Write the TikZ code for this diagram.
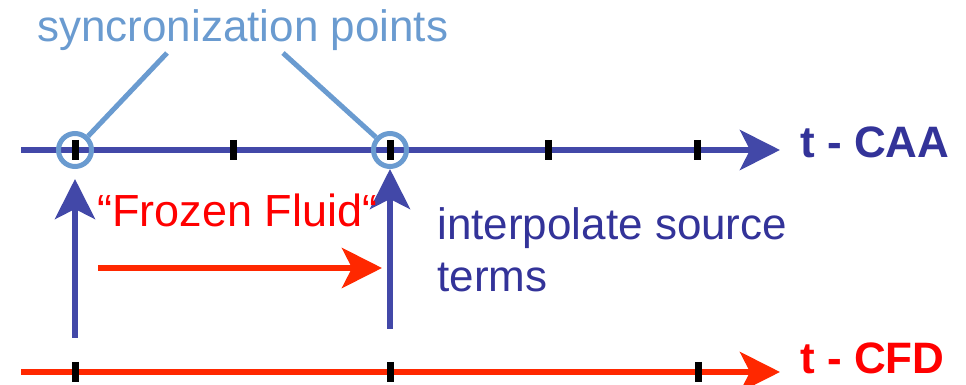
\documentclass[tikz,border=0pt]{standalone}
\usepackage{fontspec}
\setmainfont{Liberation Sans}
\usetikzlibrary{arrows.meta}
\definecolor{caablue}{RGB}{66,72,168}
\definecolor{labelblue}{RGB}{51,51,153}
\definecolor{syncblue}{RGB}{106,155,208}
\definecolor{cfdred}{RGB}{255,40,0}
\definecolor{labelred}{RGB}{255,0,0}
\begin{document}
\begin{tikzpicture}[x=0.5pt, y=-0.5pt,
    >={Stealth[length=20pt, width=20pt, inset=5pt]},
    every node/.style={font=\fontsize{22pt}{26pt}\selectfont, inner sep=0pt},
    axisline/.style={->, line width=3pt},
    tickmark/.style={line width=3.5pt, black},
    sync/.style={circle, draw=syncblue, line width=2.5pt, minimum size=16.5pt},
    callout/.style={syncblue, line width=2.5pt}]
  \useasboundingbox (0,0) rectangle (966,385);
  % CAA time axis
  \coordinate (caa0) at (21,150);
  \coordinate (caa1) at (780,150);
  \draw[axisline, caablue] (caa0) -- (caa1);
  \foreach \x in {75,233,390,548,697}
    \draw[tickmark] (\x,140) -- (\x,160);
  \node[anchor=base west, font=\fontsize{22pt}{26pt}\selectfont\bfseries, labelblue] (caa) at (800,158) {t - CAA};
  % CFD time axis
  \coordinate (cfd0) at (21,372);
  \coordinate (cfd1) at (780,372);
  \draw[axisline, cfdred] (cfd0) -- (cfd1);
  \foreach \x in {75,390,698}
    \draw[tickmark] (\x,362) -- (\x,382);
  \node[anchor=base west, font=\fontsize{22pt}{26pt}\selectfont\bfseries, labelred] (cfd) at (800,373) {t - CFD};
  % Synchronisation points
  \node[sync] (s1) at (75,150) {};
  \node[sync] (s2) at (390,150) {};
  \node[anchor=base west, syncblue] (synclabel) at (37,42) {syncronization points};
  \coordinate (c1) at (167,53);
  \coordinate (c2) at (283,53);
  \draw[callout] (c1) -- (s1);
  \draw[callout] (c2) -- (s2);
  % Transfer CFD -> CAA
  \coordinate (u1) at (75,338);
  \coordinate (u2) at (390,329);
  \draw[->, line width=3pt, caablue, shorten >=5pt] (u1) -- (s1.south);
  \draw[->, line width=3pt, caablue] (u2) -- (s2.south);
  % Frozen fluid
  \node[anchor=base west, labelred, font=\fontsize{22.5pt}{26pt}\selectfont] (frozen) at (97,227) {“Frozen Fluid“};
  \coordinate (f1) at (98,268);
  \coordinate (f2) at (382,268);
  \draw[->, line width=3pt, cfdred] (f1) -- (f2);
  \node[anchor=base west, align=left, labelblue] (interp) at (437,292) {interpolate source\\terms};
\end{tikzpicture}
\end{document}
